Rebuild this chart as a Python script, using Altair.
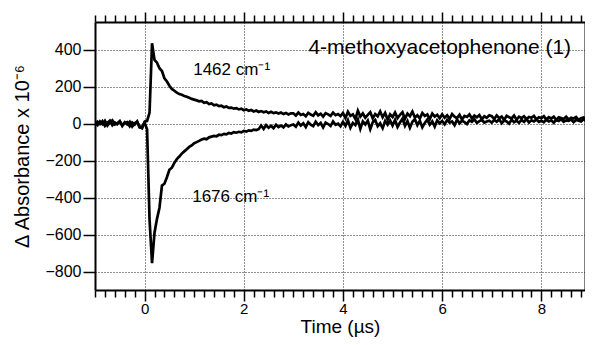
import altair as alt
import pandas as pd

# ---- data ----
time_us = [round(-1 + 0.05 * i, 2) for i in range(201)]

abs_1462 = [
    5, -8, 12, -3, 15, -10, 6, 18, -5, 2, 14, -12, 8, -4, 10, -15, 3, 9, -18, -25,
    10, 15, 60, 435, 345, 330, 300, 285, 245, 228, 205, 188, 178, 168, 160, 156, 150, 146, 140, 134,
    130, 126, 121, 123, 113, 116, 106, 109, 99, 103, 95, 97, 89, 93, 85, 87, 81, 84, 77, 81,
    73, 77, 70, 74, 66, 71, 63, 68, 62, 66, 58, 64, 57, 61, 55, 60, 52, 58, 50, 56,
    56, 44, 60, 47, 52, 40, 58, 49, 43, 62, 45, 54, 38, 57, 50, 42, 60, 46, 52, 41,
    58, 30, 64, 42, 50, 25, 70, 38, 55, 32, 48, 62, 28, 52, 40, 66, 35, 58, 22, 50,
    36, 60, 30, 48, 62, 26, 54, 40, 65, 33, 45, 28, 58, 42, 50, 24, 55, 38, 48, 30,
    50, 32, 45, 26, 52, 38, 30, 48, 22, 42, 36, 50, 28, 44, 34, 46, 24, 40, 32, 45,
    40, 25, 45, 30, 38, 20, 42, 35, 28, 44, 22, 38, 30, 40, 25, 36, 32, 42, 24, 35,
    30, 40, 22, 35, 28, 38, 20, 34, 30, 25, 38, 22, 32, 28, 36, 20, 30, 34, 24, 30,
    28,
]

abs_1676 = [
    -6, 10, -2, 14, -12, 4, 16, -8, 6, -3, 12, -10, 4, 8, -14, 6, -5, 12, -20, -15,
    5, -30, -520, -755, -590, -515, -455, -335, -325, -290, -250, -238, -212, -192, -178, -162, -150, -138, -126, -118,
    -106, -100, -93, -86, -81, -84, -74, -70, -66, -68, -60, -62, -55, -58, -50, -53, -46, -49, -44, -47,
    -40, -43, -36, -39, -32, -35, -30, -10, -28, -8, -22, -12, -25, -6, -18, -10, -20, -4, -15, -8,
    -4, -16, 6, -10, 2, -18, 8, -6, -14, 10, -8, 4, -20, 6, -2, -12, 12, -6, 0, -14,
    10, -12, 18, -22, 4, -8, 22, -28, 12, -4, 16, -30, 8, 20, -14, 2, -24, 14, -6, 18,
    -10, 20, -18, 6, 26, -12, 14, -22, 10, 24, -8, 16, -20, 4, 22, -6, 12, -16, 18, 2,
    14, -4, 20, 6, 12, -8, 22, 2, 16, 8, -2, 18, 10, 24, 4, 14, 20, 6, 12, 16,
    5, 20, 10, 24, 2, 18, 12, 0, 22, 8, 16, 4, 20, 10, 25, 6, 18, 12, 22, 10,
    16, 8, 22, 12, 18, 5, 20, 14, 24, 10, 18, 15, 22, 8, 20, 16, 12, 24, 14, 20,
    18,
]

x_minor_ticks = [round(-1 + 0.2 * i, 1) for i in range(50)]
y_ticks = [-800, -600, -400, -200, 0, 200, 400]

compound_label = ["4-methoxyacetophenone (1)"]
compound_pos_t = [8.6]
compound_pos_v = [410]

band_labels = ["1462 cm⁻¹", "1676 cm⁻¹"]
band_pos_t = [0.98, 0.96]
band_pos_v = [290, -398]

# ---- tables ----
df = pd.DataFrame({
    "t": time_us * 2,
    "v": abs_1462 + abs_1676,
    "series": ["1462"] * len(abs_1462) + ["1676"] * len(abs_1676),
})
comp_df = pd.DataFrame({"t": compound_pos_t, "v": compound_pos_v, "label": compound_label})
band_df = pd.DataFrame({"t": band_pos_t, "v": band_pos_v, "label": band_labels})

FONT = "Liberation Sans"
MAJ = "abs(datum.value/2 - round(datum.value/2)) < 0.001"

xscale = alt.Scale(domain=[-1, 8.88], nice=False, zero=False)
yscale = alt.Scale(domain=[-900, 550], nice=False, zero=False)

common_axis = dict(
    domainColor="black", domainWidth=2, tickColor="black", tickWidth=1.5,
    labelFont=FONT, titleFont=FONT, labelColor="black", titleColor="black",
)

x_bottom = alt.Axis(
    orient="bottom", values=x_minor_ticks,
    tickSize={"condition": {"test": MAJ, "value": 11}, "value": 7},
    gridOpacity={"condition": {"test": MAJ, "value": 1}, "value": 0},
    gridDash=[1, 2], gridColor="#222", gridWidth=1,
    labelExpr=f"{MAJ} ? format(datum.value, 'd') : ''",
    labelOverlap=False, labelFlush=False, labelFontSize=15, labelPadding=0,
    title="Time (µs)", titleFontSize=19, titleFontWeight="normal",
    titleBaseline="alphabetic", titleY=42,
    **common_axis,
)
y_left = alt.Axis(
    orient="left", values=y_ticks, tickSize=12,
    gridDash=[1, 2], gridColor="#222", gridWidth=1,
    labelFontSize=16, labelPadding=2,
    title="Δ Absorbance x 10⁻⁶", titleFontSize=20, titleFontWeight="normal", titlePadding=12,
    **common_axis,
)
x_top = alt.Axis(
    orient="top", values=x_minor_ticks,
    tickSize={"condition": {"test": MAJ, "value": 10}, "value": 7},
    labels=False, grid=False, title=None, **common_axis,
)
y_right = alt.Axis(
    orient="right", values=y_ticks, tickSize=5,
    labels=False, grid=False, title=None, **common_axis,
)

lines = alt.Chart(df).mark_line(color="black", strokeWidth=2.7, clip=True).encode(
    x=alt.X("t:Q", scale=xscale, axis=x_bottom),
    y=alt.Y("v:Q", scale=yscale, axis=y_left),
    detail="series:N",
)

ghost = alt.Chart(df).mark_line(opacity=0, clip=True).encode(
    x=alt.X("t:Q", scale=xscale, axis=x_top),
    y=alt.Y("v:Q", scale=yscale, axis=y_right),
    detail="series:N",
)

comp_text = alt.Chart(comp_df).mark_text(
    align="right", baseline="middle", font=FONT, fontSize=21, color="black"
).encode(
    x=alt.X("t:Q", scale=xscale, axis=None),
    y=alt.Y("v:Q", scale=yscale, axis=None),
    text="label:N",
)

band_text = alt.Chart(band_df).mark_text(
    align="left", baseline="middle", font=FONT, fontSize=17, color="black"
).encode(
    x=alt.X("t:Q", scale=xscale, axis=None),
    y=alt.Y("v:Q", scale=yscale, axis=None),
    text="label:N",
)

chart = alt.layer(lines, ghost, comp_text, band_text).resolve_axis(
    x="independent", y="independent"
).properties(
    width=490, height=268,
    autosize=alt.AutoSizeParams(type="none"),
    padding={"left": 87, "top": 14, "right": 0, "bottom": 47},
    background="white",
).configure_view(stroke=None)

chart.save("out.html", embed_options={"renderer": "svg", "actions": False})
